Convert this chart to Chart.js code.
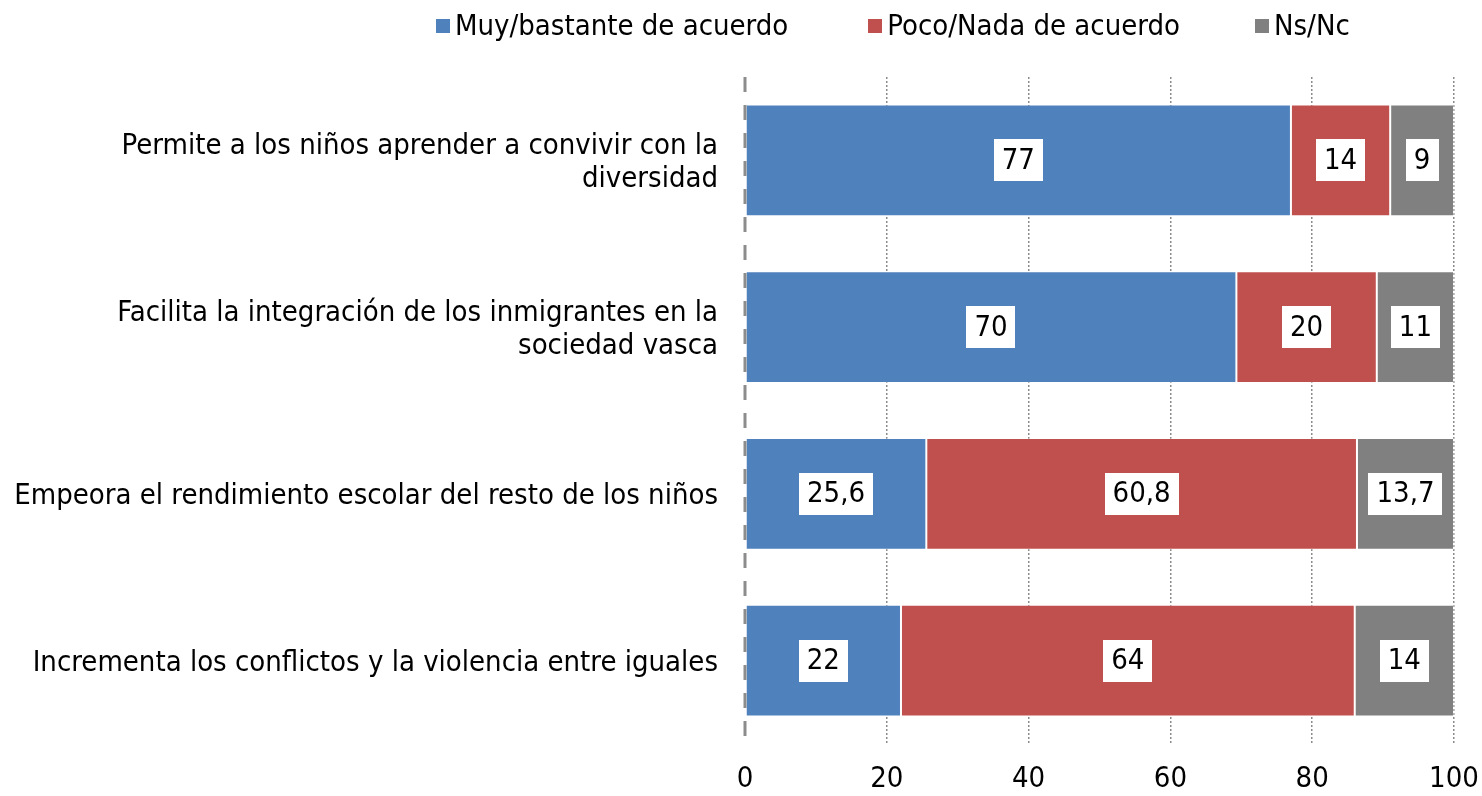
<!DOCTYPE html>
<html>
<head>
<meta charset="utf-8">
<script src="https://cdn.jsdelivr.net/npm/chart.js@4.4.0/dist/chart.umd.min.js"></script>
<style>
  html, body { margin: 0; padding: 0; background: #fff; }
  #wrap { position: relative; width: 1482px; height: 796px; }
  #legend { position: absolute; top: 8px; left: 436px; display: flex; font-family: "DejaVu Sans Condensed", "DejaVu Sans", sans-serif; font-size: 29px; color: #000; }
  #legend .item { display: flex; align-items: center; }
  #legend .box { width: 14px; height: 14px; margin-right: 5px; margin-top: 2px; }
  canvas { display: block; }
</style>
</head>
<body>
<div id="wrap">
  <div id="legend"></div>
  <canvas id="surveyChart" width="1482" height="796"></canvas>
</div>
<script>
// Datos de la encuesta
const categories = [
    ['Permite a los niños aprender a convivir con la', 'diversidad'],
    ['Facilita la integración de los inmigrantes en la', 'sociedad vasca'],
    'Empeora el rendimiento escolar del resto de los niños',
    'Incrementa los conflictos y la violencia entre iguales'
];
const seriesNames = ['Muy/bastante de acuerdo', 'Poco/Nada de acuerdo', 'Ns/Nc'];
const acuerdo = [77, 70, 25.6, 22];
const desacuerdo = [14, 20, 60.8, 64];
const nsnc = [9, 11, 13.7, 14];
const xTicks = [0, 20, 40, 60, 80, 100];
const colors = ['#4F81BD', '#C0504D', '#808080'];

const FONT = '"DejaVu Sans Condensed", "DejaVu Sans", sans-serif';

// Excel-like 100% stacked: normalise each row
const rawSeries = [acuerdo, desacuerdo, nsnc];
const rowTotals = categories.map((c, i) => acuerdo[i] + desacuerdo[i] + nsnc[i]);

function buildLegend() {
    const legend = document.getElementById('legend');
    const gaps = [0, 80, 75];
    seriesNames.forEach((name, i) => {
        const item = document.createElement('div');
        item.className = 'item';
        item.style.marginLeft = gaps[i] + 'px';
        item.innerHTML = '<span class="box" style="background:' + colors[i] + '"></span><span>' + name + '</span>';
        legend.appendChild(item);
    });
}

const valueLabels = {
    id: 'valueLabels',
    afterDatasetsDraw(chart) {
        const ctx = chart.ctx;
        ctx.save();
        ctx.font = '29px ' + FONT;
        ctx.textAlign = 'center';
        ctx.textBaseline = 'middle';
        chart.data.datasets.forEach((ds, di) => {
            const meta = chart.getDatasetMeta(di);
            meta.data.forEach((bar, i) => {
                const txt = String(rawSeries[di][i]).replace('.', ',');
                const cx = (bar.x + bar.base) / 2;
                const cy = bar.y;
                const w = ctx.measureText(txt).width + 16;
                const h = 42;
                ctx.fillStyle = '#fff';
                ctx.fillRect(Math.round(cx - w / 2), Math.round(cy - h / 2), Math.round(w), h);
                ctx.fillStyle = '#000';
                ctx.fillText(txt, cx, cy + 1);
            });
        });
        ctx.restore();
    }
};

// dashed vertical axis at 0
const zeroAxis = {
    id: 'zeroAxis',
    afterDraw(chart) {
        const ctx = chart.ctx;
        const a = chart.chartArea;
        const x = chart.scales.x.getPixelForValue(0);
        ctx.save();
        ctx.strokeStyle = '#8c8c8c';
        ctx.lineWidth = 3;
        ctx.setLineDash([15, 13]);
        ctx.beginPath();
        ctx.moveTo(x, a.top);
        ctx.lineTo(x, a.bottom);
        ctx.stroke();
        ctx.restore();
    }
};

function initSurveyChart() {
    const ctx = document.getElementById('surveyChart').getContext('2d');
    new Chart(ctx, {
        type: 'bar',
        data: {
            labels: categories,
            datasets: rawSeries.map((vals, di) => ({
                label: seriesNames[di],
                data: vals.map((v, i) => v / rowTotals[i] * 100),
                backgroundColor: colors[di],
                borderColor: 'rgba(255,255,255,0.35)',
                borderWidth: 1,
                borderSkipped: false,
                barPercentage: 0.67,
                categoryPercentage: 1
            }))
        },
        options: {
            indexAxis: 'y',
            responsive: false,
            animation: false,
            layout: { padding: { top: 77, right: 28, left: 0, bottom: 0 } },
            plugins: {
                legend: { display: false },
                tooltip: { enabled: false }
            },
            scales: {
                x: {
                    stacked: true,
                    min: 0,
                    max: 100,
                    afterBuildTicks: (scale) => { scale.ticks = xTicks.map(v => ({ value: v })); },
                    afterFit: (scale) => {
                        scale.height = 52;
                        scale.paddingLeft = 0;
                        scale.paddingRight = 0;
                    },
                    border: { display: false, dash: [2, 2] },
                    grid: {
                        color: (c) => c.tick && c.tick.value === 0 ? 'rgba(0,0,0,0)' : '#8c8c8c',
                        lineWidth: 1.5,
                        drawTicks: false
                    },
                    ticks: { color: '#000', font: { family: FONT, size: 29 }, padding: 18 }
                },
                y: {
                    stacked: true,
                    afterFit: (scale) => {
                        scale.width = 745;
                        scale.paddingTop = 0;
                        scale.paddingBottom = 0;
                    },
                    border: { display: false },
                    grid: { display: false, drawTicks: false },
                    ticks: {
                        color: '#000',
                        font: { family: FONT, size: 29, lineHeight: 1.14 },
                        padding: 27,
                        labelOffset: 3,
                        crossAlign: 'near'
                    }
                }
            }
        },
        plugins: [valueLabels, zeroAxis]
    });
}

buildLegend();
initSurveyChart();
</script>
</body>
</html>
